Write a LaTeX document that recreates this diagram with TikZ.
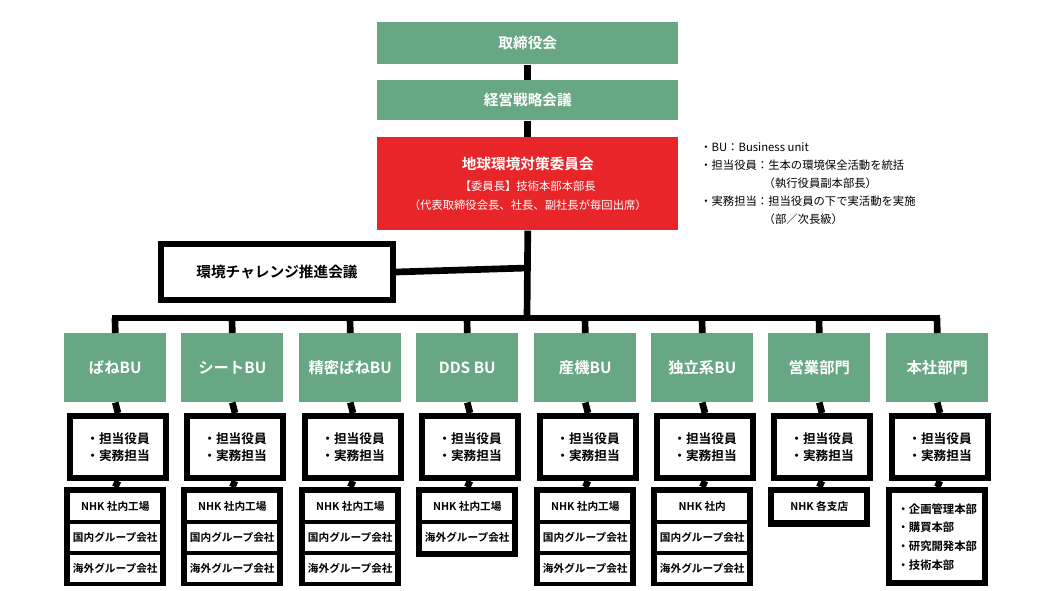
\documentclass[tikz,border=0pt]{standalone}
\usepackage{fontspec}
\setmainfont{Noto Sans CJK JP}[BoldFont={Noto Sans CJK JP Bold}]
\begin{document}
\begin{tikzpicture}[x=0.75pt,y=-0.75pt,
  gbox/.style={fill=ngreen,text=white,font=\bfseries,inner sep=0,anchor=north west},
  wire/.style={line width=5pt},
  mbox/.style={draw=black,line width=4.5pt,fill=white,inner sep=0,anchor=north west,font=\bfseries\fontsize{9.5}{13}\selectfont,align=center},
  cell/.style={fill=white,inner sep=0,anchor=north west,font=\bfseries\fontsize{8}{10}\selectfont,align=center},
  black/.style={fill=black,inner sep=0,anchor=north west}]
\definecolor{ngreen}{HTML}{68A783}
\definecolor{nred}{HTML}{E8262A}
\useasboundingbox (0,0) rectangle (1050,590);
\node[gbox,minimum width=301*0.75pt,minimum height=42*0.75pt,font=\bfseries\fontsize{11}{13}\selectfont] (top) at (377,22) {取締役会};
\node[gbox,minimum width=301*0.75pt,minimum height=40*0.75pt,font=\bfseries\fontsize{11}{13}\selectfont] (sen) at (377,80) {経営戦略会議};
\node[fill=nred,text=white,inner sep=0,anchor=north west,minimum width=301*0.75pt,minimum height=93*0.75pt,align=center] (red) at (377,137)
  {{\bfseries\fontsize{11}{14}\selectfont 地球環境対策委員会}\\[4pt]{\fontsize{8.5}{13}\selectfont 【委員長】技術本部本部長}\\[2pt]{\fontsize{8.5}{13}\selectfont （代表取締役会長、社長、副社長が毎回出席）}};
\node[mbox,minimum width=232*0.75pt,minimum height=56*0.75pt,font=\bfseries\fontsize{11}{13}\selectfont] (chal) at (158,241) {環境チャレンジ推進会議};
\node[anchor=north west,align=left,inner sep=0,font=\fontsize{8.5}{13.5}\selectfont] (note) at (700,142)
  {・BU：Business unit\\・担当役員：生本の環境保全活動を統括\\\hspace{5.6em}（執行役員副本部長）\\・実務担当：担当役員の下で実活動を実施\\\hspace{5.6em}（部／次長級）};
\coordinate (bt) at (527,318);
\coordinate (cj) at (527,268);
\draw[wire] (top.south) -- (sen.north);
\draw[wire] (sen.south) -- (red.north);
\draw[wire] (red.south) -- (bt);
\draw[wire] (chal.east) -- (cj);
\coordinate (bl) at (115,318);
\coordinate (br) at (937,318);
\draw[wire,line cap=rect] (bl) -- (br);
\foreach \i/\cx/\t in {1/115/ばねBU,2/232/シートBU,3/350/精密ばねBU,4/467/DDS BU,5/585/産機BU,6/702/独立系BU,7/819/営業部門,8/937/本社部門}{
  \node[gbox,minimum width=102*0.75pt,minimum height=69*0.75pt,font=\bfseries\fontsize{11.5}{13}\selectfont] (g\i) at (\cx-51,333) {\t};
  \node[mbox,minimum width=96*0.75pt,minimum height=62*0.75pt] (m\i) at (\cx-48,413) {・担当役員\\・実務担当};
  \coordinate (b\i) at (\cx,318);
  \draw[wire] (b\i) -- (g\i.north);
  \draw[wire] (g\i.south) -- (m\i.north);
}
% lower boxes
\foreach \i/\cx in {1/115,2/232,3/350,5/585,6/702}{
  \node[black,minimum width=102*0.75pt,minimum height=99*0.75pt] (l\i) at (\cx-51,487) {};
}
\node[black,minimum width=102*0.75pt,minimum height=70*0.75pt] (l4) at (467-51,487) {};
\node[black,minimum width=102*0.75pt,minimum height=40*0.75pt] (l7) at (819-51,487) {};
\node[black,minimum width=102*0.75pt,minimum height=99*0.75pt] (l8) at (937-51,487) {};
\foreach \i in {1,...,8}{\draw[wire] (m\i.south) -- (l\i.north);}
\tikzset{c/.style={cell,minimum width=90*0.75pt,minimum height=27*0.75pt}}
\foreach \i/\cx/\a in {1/115/NHK 社内工場,2/232/NHK 社内工場,3/350/NHK 社内工場,5/585/NHK 社内工場,6/702/NHK 社内}{
  \node[c] (ca\i) at (\cx-45,493) {\a};
  \node[c] (cb\i) at (\cx-45,524) {国内グループ会社};
  \node[c] (cc\i) at (\cx-45,555) {海外グループ会社};
}
\node[c] (ca4) at (467-45,493) {NHK 社内工場};
\node[c] (cb4) at (467-45,524) {海外グループ会社};
\node[c] (ca7) at (819-45,493) {NHK 各支店};
\node[cell,minimum width=90*0.75pt,minimum height=87*0.75pt,align=left,font=\bfseries\fontsize{8.5}{14}\selectfont] (cd8) at (937-45,493) {・企画管理本部\\・購買本部\\・研究開発本部\\・技術本部};
\end{tikzpicture}
\end{document}
